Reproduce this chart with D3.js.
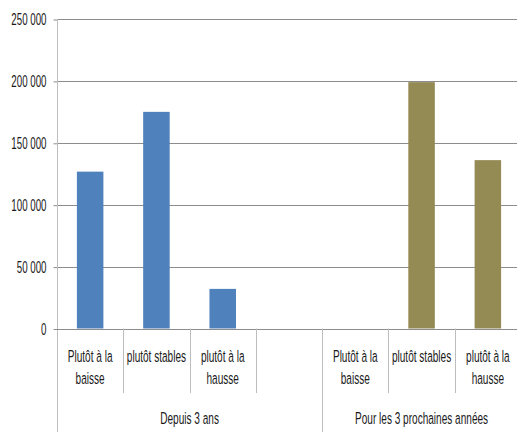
<!DOCTYPE html>
<html>
<head>
<meta charset="utf-8">
<script src="https://cdn.jsdelivr.net/npm/d3@7"></script>
<style>
  html, body { margin: 0; padding: 0; background: #fff; }
  svg { display: block; }
  text { font-family: "Liberation Sans", Arial, sans-serif; font-size: 16.5px; fill: #1a1a1a; }
</style>
</head>
<body>
<svg id="chart" width="517" height="432"></svg>
<script>
// Category labels (one slot each) and their groups
const categories = ["Plutôt à la baisse", "plutôt stables", "plutôt à la hausse", "",
                    "Plutôt à la baisse", "plutôt stables", "plutôt à la hausse"];
const groups = ["Depuis 3 ans", "Pour les 3 prochaines années"];
const groupSizes = [4, 3];

// Values per slot for each series (null = no bar)
const depuis3ans = [126700, 175000, 32000, null, null, null, null];
const prochaines = [null, null, null, null, 0, 199000, 136000];

const yTicks = [0, 50000, 100000, 150000, 200000, 250000];

const colors = { depuis: "#4F81BD", prochaines: "#948A54" };
const squeeze = 0.61;     // horizontal text compression for category labels
const tickSqueeze = 0.59; // same for the value labels

const svg = d3.select("#chart");
const plotL = 57, plotR = 521, plotT = 19, plotB = 328.5;
const catBottom = 393, groupBottom = 432;

const x = d3.scaleBand().domain(d3.range(categories.length)).range([plotL, plotR]);
const y = d3.scaleLinear().domain([0, 250000]).range([plotB, plotT]);

// Horizontal gridlines
svg.append("g").selectAll("line").data(yTicks.filter(v => v > 0)).join("line")
  .attr("x1", plotL).attr("x2", 517)
  .attr("y1", d => Math.round(y(d)) + 0.5).attr("y2", d => Math.round(y(d)) + 0.5)
  .attr("stroke", "#8c8c8c").attr("stroke-width", 1);

// Bars
const barW = x.bandwidth() * 0.4;
function drawSeries(values, color) {
  svg.append("g").selectAll("rect")
    .data(values.map((v, i) => ({ v, i })).filter(d => d.v !== null && d.v > 0))
    .join("rect")
    .attr("x", d => x(d.i) + (x.bandwidth() - barW) / 2)
    .attr("width", barW)
    .attr("y", d => y(d.v))
    .attr("height", d => y(0) - y(d.v))
    .attr("fill", color);
}
drawSeries(depuis3ans, colors.depuis);
drawSeries(prochaines, colors.prochaines);

// Y axis
const fmt = d3.formatLocale({ decimal: ",", thousands: " ", grouping: [3], currency: ["", ""] }).format(",d");
const yAxis = svg.append("g")
  .attr("transform", `translate(${plotL + 0.5},0)`)
  .call(d3.axisLeft(y).tickValues(yTicks).tickFormat(fmt).tickSize(4).tickPadding(0));
yAxis.attr("font-family", null).attr("font-size", null);
yAxis.select(".domain").remove();
yAxis.selectAll(".tick line").attr("stroke", "#8c8c8c").attr("transform", "translate(0,0.5)");
yAxis.selectAll(".tick text")
  .attr("x", 0).attr("dy", "0.36em")
  .attr("text-anchor", "end")
  .attr("fill", "#1a1a1a")
  .attr("transform", `translate(-11,0) scale(${tickSqueeze},1)`);

// Axis lines
const axisColor = "#bdbdbd";
svg.append("line").attr("x1", plotL + 0.5).attr("x2", plotL + 0.5).attr("y1", plotT).attr("y2", groupBottom)
  .attr("stroke", axisColor);
svg.append("line").attr("x1", plotL).attr("x2", 517).attr("y1", Math.round(plotB) + 0.5).attr("y2", Math.round(plotB) + 0.5)
  .attr("stroke", "#8c8c8c");

// Category dividers and group dividers
const boundaries = [];
let acc = 0;
groupSizes.forEach(n => { acc += n; boundaries.push(acc); });
d3.range(1, categories.length).forEach(i => {
  const isGroup = boundaries.includes(i);
  svg.append("line")
    .attr("x1", Math.round(x(i)) + 0.5).attr("x2", Math.round(x(i)) + 0.5)
    .attr("y1", plotB).attr("y2", isGroup ? groupBottom : catBottom)
    .attr("stroke", axisColor);
});

// Category labels with word wrap
const maxW = 62;
const catG = svg.append("g");
categories.forEach((label, i) => {
  if (!label) return;
  const cx = x(i) + x.bandwidth() / 2;
  const t = catG.append("text").attr("text-anchor", "middle")
    .attr("transform", `translate(${cx},0) scale(${squeeze},1)`);
  const words = label.split(" ");
  const lines = [];
  let cur = [];
  const probe = t.append("tspan");
  words.forEach(w => {
    const test = cur.concat([w]).join(" ");
    probe.text(test);
    if (probe.node().getComputedTextLength() * squeeze > maxW && cur.length) {
      lines.push(cur.join(" "));
      cur = [w];
    } else cur.push(w);
  });
  lines.push(cur.join(" "));
  probe.remove();
  lines.forEach((ln, k) => {
    t.append("tspan").attr("x", 0).attr("y", 362 + k * 22.5).text(ln);
  });
});

// Group labels
let start = 0;
groups.forEach((g, gi) => {
  const end = start + groupSizes[gi];
  const x0 = x(start), x1 = end < categories.length ? x(end) : plotR;
  svg.append("text").attr("text-anchor", "middle")
    .attr("transform", `translate(${(x0 + x1) / 2},424) scale(${squeeze},1)`)
    .text(g);
  start = end;
});
</script>
</body>
</html>
